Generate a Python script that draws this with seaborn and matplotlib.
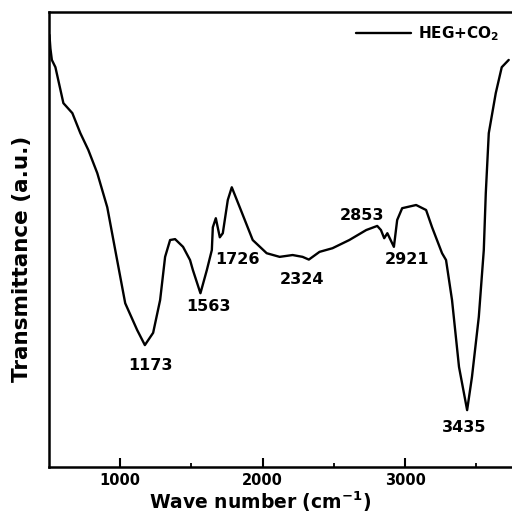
import numpy as np
import pandas as pd
import matplotlib
matplotlib.use("Agg")
import matplotlib.pyplot as plt
import seaborn as sns

# FTIR spectrum (wavenumber in cm-1, transmittance a.u.)
wavenumber = [503, 510, 520, 545, 601, 664, 720, 776, 839, 909, 965, 1035, 1119,
              1173, 1231, 1280, 1315, 1350, 1385, 1441, 1490, 1510, 1563, 1608,
              1643, 1650, 1671, 1699, 1720, 1755, 1783, 1839, 1930, 2028, 2119,
              2210, 2280, 2324, 2399, 2490, 2608, 2727, 2804, 2830, 2853, 2875,
              2921, 2944, 2979, 3077, 3147, 3189, 3259, 3287, 3329, 3378, 3435,
              3469, 3517, 3552, 3566, 3587, 3636, 3678, 3727]
transmittance = [95.0, 92.0, 89.5, 87.9, 80.0, 77.8, 73.4, 69.7, 64.6, 57.1, 47.7,
                 36.0, 30.1, 26.8, 29.5, 36.7, 46.2, 49.9, 50.1, 48.4, 45.5, 43.3,
                 38.2, 43.3, 47.7, 52.7, 54.7, 50.5, 51.4, 58.7, 61.5, 57.1, 49.9,
                 47.0, 46.2, 46.6, 46.2, 45.6, 47.3, 48.1, 49.9, 52.1, 53.0, 52.1,
                 50.3, 51.4, 48.4, 54.3, 56.9, 57.6, 56.5, 52.7, 47.0, 45.5, 36.7,
                 22.0, 12.5, 19.8, 33.0, 47.7, 60.2, 73.4, 82.2, 87.9, 89.5]

peak_labels = ["1173", "1563", "1726", "2324", "2853", "2921", "3435"]
label_x = [1210, 1622, 1825, 2273, 2699, 3014, 3413]
label_y = [22.4, 35.2, 45.7, 41.3, 55.2, 45.7, 8.6]

df = pd.DataFrame({"wn": wavenumber, "T": transmittance})

sns.set_style("ticks")
plt.rcParams["font.family"] = ["DejaVu Sans"]
plt.rcParams["font.weight"] = "bold"
plt.rcParams["mathtext.fontset"] = "custom"
plt.rcParams["mathtext.rm"] = "DejaVu Sans:bold"
plt.rcParams["mathtext.bf"] = "DejaVu Sans:bold"
plt.rcParams["mathtext.it"] = "DejaVu Sans:bold"
plt.rcParams["mathtext.default"] = "rm"
for key in ["text.color", "axes.labelcolor", "xtick.color", "ytick.color", "axes.edgecolor"]:
    plt.rcParams[key] = "black"

fig = plt.figure(figsize=(5.12, 5.18), dpi=100)
ax = fig.add_axes([0.0957, 0.0985, 0.9043, 0.878])

sns.lineplot(data=df, x="wn", y="T", color="black", linewidth=1.7, sort=False,
             ax=ax, label="HEG+CO$_2$")

for txt, x, y in zip(peak_labels, label_x, label_y):
    ax.text(x, y, txt, ha="center", va="center", fontsize=11.5, fontweight="bold")

ax.set_xlim(500, 3750)
ax.set_ylim(0, 100)
ax.set_xticks([1000, 2000, 3000])
ax.set_xticks([1500, 2500, 3500], minor=True)
ax.set_yticks([])
ax.tick_params(axis="x", which="major", direction="in", length=6.5, width=1.5,
               labelsize=10.5, pad=4)
ax.tick_params(axis="x", which="minor", direction="in", length=3, width=1.3)
for lab in ax.get_xticklabels():
    lab.set_fontweight("bold")

for side in ["left", "bottom", "top"]:
    ax.spines[side].set_linewidth(1.8)
ax.spines["right"].set_visible(False)

ax.set_xlabel("Wave number (cm$^{-1}$)", fontsize=13.5, fontweight="bold")
ax.set_ylabel("Transmittance (a.u.)", fontsize=15.5, fontweight="bold")
ax.xaxis.set_label_coords(0.456, -0.05)
ax.yaxis.set_label_coords(-0.036, 0.457)

leg = ax.legend(loc="upper right", frameon=False, fontsize=11, handlelength=3.6,
                handletextpad=0.5, borderaxespad=0.4)
for t in leg.get_texts():
    t.set_fontweight("bold")

fig.savefig("out.png", dpi=100)
